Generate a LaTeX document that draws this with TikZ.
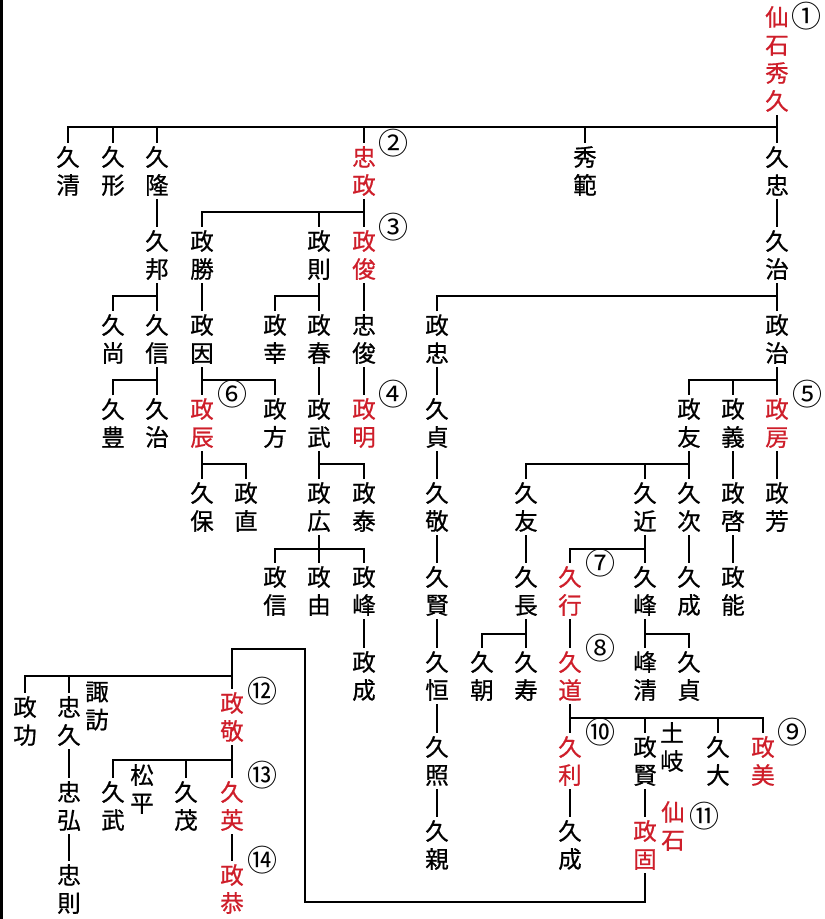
\documentclass[tikz,border=0pt]{standalone}
\usepackage{fontspec}
\newfontfamily\jpf[FakeBold=0.7]{Noto Sans CJK JP}
\newfontfamily\jpc{Noto Sans CJK JP}
\definecolor{redname}{RGB}{206,30,42}
\tikzset{
  nm/.style={font=\jpf\fontsize{23.5}{28}\selectfont, align=center, inner sep=3pt},
  nmr/.style={nm, text=redname},
  cnum/.style={font=\jpc\fontsize{30}{30}\selectfont, inner sep=0pt},
  ln/.style={line width=1.9pt, draw=black}
}
\begin{document}
\begin{tikzpicture}[x=1pt,y=-1pt]
\useasboundingbox (0,0) rectangle (825,919);
\draw[line width=2.6pt] (1.3,0) -- (1.3,919);
% bar heights
\coordinate (b127) at (0,127);
\coordinate (b212) at (0,212);
\coordinate (b296) at (0,296);
\coordinate (b380) at (0,380);
\coordinate (b464) at (0,464);
\coordinate (b549) at (0,549);
\coordinate (b634) at (0,634);
\coordinate (b718) at (0,718);
\coordinate (b676) at (0,676);
\coordinate (b760) at (0,760);
\coordinate (L1) at (305,902);
\coordinate (L2) at (305,649);
\coordinate (L3) at (232,649);
% root
\node[nmr] (hisa) at (777,59) {仙\\石\\秀\\久};
% R1
\node[nm] (kiyo) at (68,171) {久\\清};
\node[nm] (kata) at (113,171) {久\\形};
\node[nm] (taka) at (157,171) {久\\隆};
\node[nmr] (tadamasa) at (364,171) {忠\\政};
\node[nm] (hidenori) at (585,171) {秀\\範};
\node[nm] (hisatada) at (777,171) {久\\忠};
% R2
\node[nm] (kuni) at (157,255) {久\\邦};
\node[nm] (katsu) at (202,255) {政\\勝};
\node[nm] (nori) at (319,255) {政\\則};
\node[nmr] (toshi) at (364,255) {政\\俊};
\node[nm] (hisaharu) at (777,255) {久\\治};
% R3
\node[nm] (nao) at (113,339) {久\\尚};
\node[nm] (nobu) at (157,339) {久\\信};
\node[nm] (yoshi) at (202,339) {政\\因};
\node[nm] (yuki) at (275,339) {政\\幸};
\node[nm] (haru) at (319,339) {政\\春};
\node[nm] (tadatoshi) at (364,339) {忠\\俊};
\node[nm] (mtada) at (437,339) {政\\忠};
\node[nm] (mharu) at (777,339) {政\\治};
% R4
\node[nm] (toyo) at (113,423) {久\\豊};
\node[nm] (hharu) at (157,423) {久\\治};
\node[nmr] (toki) at (202,423) {政\\辰};
\node[nm] (kata2) at (275,423) {政\\方};
\node[nm] (take) at (319,423) {政\\武};
\node[nmr] (aki) at (364,423) {政\\明};
\node[nm] (sada) at (437,423) {久\\貞};
\node[nm] (tomo) at (689,423) {政\\友};
\node[nm] (mgi) at (733,423) {政\\義};
\node[nmr] (fusa) at (777,423) {政\\房};
% R5
\node[nm] (yasu) at (202,507) {久\\保};
\node[nm] (nao2) at (246,507) {政\\直};
\node[nm] (hiro) at (319,507) {政\\広};
\node[nm] (tai) at (364,507) {政\\泰};
\node[nm] (kei) at (437,507) {久\\敬};
\node[nm] (htomo) at (526,507) {久\\友};
\node[nm] (chika) at (645,507) {久\\近};
\node[nm] (tsugu) at (689,507) {久\\次};
\node[nm] (mkei2) at (733,507) {政\\啓};
\node[nm] (mhou) at (777,507) {政\\芳};
% R6
\node[nm] (mnobu) at (275,591) {政\\信};
\node[nm] (myu) at (319,591) {政\\由};
\node[nm] (mmine) at (364,591) {政\\峰};
\node[nm] (ken) at (437,591) {久\\賢};
\node[nm] (naga) at (526,591) {久\\長};
\node[nmr] (yuki2) at (570,591) {久\\行};
\node[nm] (mine) at (645,591) {久\\峰};
\node[nm] (nari) at (689,591) {久\\成};
\node[nm] (nou) at (733,591) {政\\能};
% R7
\node[nm] (mnari) at (364,676) {政\\成};
\node[nm] (tsune) at (437,676) {久\\恒};
\node[nm] (asa) at (482,676) {久\\朝};
\node[nm] (kotobuki) at (526,676) {久\\寿};
\node[nmr] (michi) at (570,676) {久\\道};
\node[nm] (minekiyo) at (645,676) {峰\\清};
\node[nm] (sada2) at (689,676) {久\\貞};
% R8
\node[nm] (teru) at (437,761) {久\\照};
\node[nmr] (toshi2) at (570,761) {久\\利};
\node[nm] (mken) at (645,761) {政\\賢};
\node[nm] (toki2) at (672,747) {土\\岐};
\node[nm] (dai) at (718,761) {久\\大};
\node[nmr] (mbi) at (763,761) {政\\美};
% R9
\node[nm] (chika2) at (437,845) {久\\親};
\node[nm] (nari2) at (570,845) {久\\成};
\node[nmr] (mko) at (645,845) {政\\固};
\node[nmr] (sengoku) at (673,826) {仙\\石};
% lower left
\node[nm] (kou) at (25,721) {政\\功};
\node[nm] (tadahisa) at (69,721) {忠\\久};
\node[nm] (suwa) at (97,706) {諏\\訪};
\node[nmr] (mkei) at (232,717) {政\\敬};
\node[nm] (htake) at (113,806) {久\\武};
\node[nm] (matsu) at (142,789) {松\\平};
\node[nm] (shige) at (186,806) {久\\茂};
\node[nmr] (ei) at (232,806) {久\\英};
\node[nm] (tadahiro) at (69,806) {忠\\弘};
\node[nmr] (kyou) at (232,889) {政\\恭};
\node[nm] (tadanori) at (69,889) {忠\\則};
% circled numbers
\node[cnum] (c1) at (806,16) {①};
\node[cnum] (c2) at (393,143) {②};
\node[cnum] (c3) at (393,227) {③};
\node[cnum] (c4) at (393,394) {④};
\node[cnum] (c5) at (807,394) {⑤};
\node[cnum] (c6) at (232,394) {⑥};
\node[cnum] (c7) at (600,563) {⑦};
\node[cnum] (c8) at (600,648) {⑧};
\node[cnum] (c9) at (792,732) {⑨};
\node[cnum] (c10) at (600,732) {⑩};
\node[cnum] (c11) at (704,816) {⑪};
\node[cnum] (c12) at (262,691) {⑫};
\node[cnum] (c13) at (262,775) {⑬};
\node[cnum] (c14) at (262,860) {⑭};
% connectors
\begin{scope}[ln]
% root family
\draw (hisa.south) -- (hisatada.north);
\foreach \c in {kiyo,kata,taka,tadamasa,hidenori} \draw (\c.north) |- (hisatada.north |- b127);
% tadamasa family
\draw (tadamasa.south) -- (toshi.north);
\foreach \c in {katsu,nori} \draw (\c.north) |- (toshi.north |- b212);
% kuni family
\draw (taka.south) -- (kuni.north);
\draw (kuni.south) -- (nobu.north);
\draw (nao.north) |- (nobu.north |- b296);
% nori family
\draw (nori.south) -- (haru.north);
\draw (yuki.north) |- (haru.north |- b296);
% hisaharu family
\draw (hisatada.south) -- (hisaharu.north);
\draw (hisaharu.south) -- (mharu.north);
\draw (mtada.north) |- (mharu.north |- b296);
% singles
\draw (katsu.south) -- (yoshi.north);
\draw (toshi.south) -- (tadatoshi.north);
\draw (tadatoshi.south) -- (aki.north);
\draw (haru.south) -- (take.north);
% nobu family
\draw (nobu.south) -- (hharu.north);
\draw (toyo.north) |- (hharu.north |- b380);
% yoshi family
\draw (yoshi.south) -- (toki.north);
\draw (kata2.north) |- (toki.north |- b380);
% mharu family
\draw (mharu.south) -- (fusa.north);
\foreach \c in {tomo,mgi} \draw (\c.north) |- (fusa.north |- b380);
% toki family
\draw (toki.south) -- (yasu.north);
\draw (nao2.north) |- (yasu.north |- b464);
% take family
\draw (take.south) -- (hiro.north);
\draw (tai.north) |- (hiro.north |- b464);
% tomo family
\draw (tomo.south) -- (tsugu.north);
\foreach \c in {htomo,chika} \draw (\c.north) |- (tsugu.north |- b464);
% mtada chain
\draw (mtada.south) -- (sada.north);
\draw (sada.south) -- (kei.north);
\draw (kei.south) -- (ken.north);
\draw (ken.south) -- (tsune.north);
\draw (tsune.south) -- (teru.north);
\draw (teru.south) -- (chika2.north);
% other singles
\draw (mgi.south) -- (mkei2.north);
\draw (mkei2.south) -- (nou.north);
\draw (fusa.south) -- (mhou.north);
\draw (htomo.south) -- (naga.north);
\draw (tsugu.south) -- (nari.north);
\draw (yuki2.south) -- (michi.north);
\draw (mmine.south) -- (mnari.north);
\draw (toshi2.south) -- (nari2.north);
\draw (mken.south) -- (mko.north);
% hiro family
\draw (hiro.south) -- (myu.north);
\foreach \c in {mnobu,mmine} \draw (\c.north) |- (myu.north |- b549);
% chika family
\draw (chika.south) -- (mine.north);
\draw (yuki2.north) |- (mine.north |- b549);
% naga family
\draw (naga.south) -- (kotobuki.north);
\draw (asa.north) |- (kotobuki.north |- b634);
% mine family
\draw (mine.south) -- (minekiyo.north);
\draw (sada2.north) |- (minekiyo.north |- b634);
% michi family
\draw (michi.south) -- (toshi2.north);
\foreach \c in {mken,dai,mbi} \draw (\c.north) |- (toshi2.north |- b718);
% loop to mkei
\draw (mko.south) |- (L1) -- (L2) -- (L3) -- (mkei.north);
% left family
\draw (kou.north) |- (mkei.north |- b676);
\draw (tadahisa.north) -- (tadahisa.north |- b676);
\draw (tadahisa.south) -- (tadahiro.north);
\draw (tadahiro.south) -- (tadanori.north);
% mkei family
\draw (mkei.south) -- (ei.north);
\draw (htake.north) |- (ei.north |- b760);
\draw (shige.north) -- (shige.north |- b760);
\draw (ei.south) -- (kyou.north);
\end{scope}
\end{tikzpicture}
\end{document}
